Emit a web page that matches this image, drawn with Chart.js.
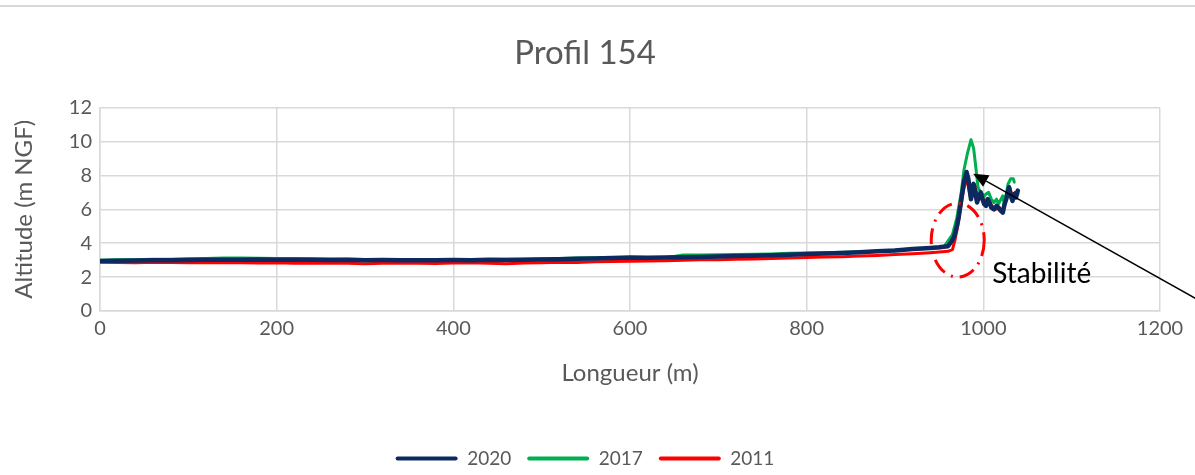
<!DOCTYPE html>
<html>
<head>
<meta charset="utf-8">
<script src="https://cdn.jsdelivr.net/npm/chart.js@4.4.1/dist/chart.umd.min.js"></script>
<style>
  html, body { margin: 0; padding: 0; background: #ffffff; }
  #wrap { position: relative; width: 1195px; height: 475px; overflow: hidden; }
  #topline { position: absolute; left: 0; top: 5px; width: 1195px; height: 2px; background: #d9d9d9; }
  canvas { position: absolute; left: 0; top: 0; }
</style>
</head>
<body>
<div id="wrap">
  <canvas id="c" width="1195" height="475"></canvas>
  <div id="topline"></div>
</div>
<script>
// ---- Data ----
const seriesNames = ['2020', '2017', '2011'];

const dist2020 = [0,20,40,60,80,100,120,140,160,180,200,220,240,260,280,300,320,340,360,380,400,420,440,460,480,500,520,540,560,580,600,620,640,660,680,700,720,740,760,780,800,820,840,860,880,900,920,940,950,960,964,967,970,972,974,976,978,981,983,985,986,988,989,991,993,995,997,999,1001,1003,1005,1007,1009,1012,1015,1017,1020,1022,1024,1026,1027,1029,1031,1033,1035,1037,1039];
const alt2020  = [2.95,2.97,2.98,3.0,2.99,3.01,3.02,3.03,3.02,3.04,3.03,3.02,3.03,3.01,3.02,3.0,3.01,3.0,2.99,3.0,3.01,3.0,3.02,3.01,3.03,3.04,3.06,3.08,3.1,3.12,3.15,3.14,3.16,3.17,3.19,3.21,3.24,3.26,3.29,3.32,3.36,3.39,3.42,3.47,3.52,3.57,3.66,3.72,3.76,3.82,4.1,4.4,5.0,5.5,6.2,6.9,7.6,8.2,7.8,7.0,6.6,7.3,7.5,6.9,6.4,6.8,7.0,6.6,6.3,6.2,6.6,6.4,6.1,6.0,6.2,6.1,5.9,5.8,6.3,6.6,6.9,7.3,6.8,6.5,6.9,6.7,7.1];

const dist2017 = [0,20,40,60,80,100,120,140,160,180,200,220,240,260,280,300,320,340,360,380,400,420,440,460,480,500,520,540,560,580,600,620,640,650,660,680,700,720,740,760,780,800,820,840,860,880,900,920,940,955,965,970,975,978,982,986,989,991,994,997,1000,1003,1006,1009,1012,1015,1017,1020,1022,1024,1026,1028,1031,1034,1035];
const alt2017  = [3.0,3.02,3.03,3.05,3.06,3.08,3.1,3.12,3.12,3.11,3.1,3.1,3.08,3.07,3.05,3.04,3.03,3.02,3.02,3.01,3.02,3.03,3.04,3.05,3.06,3.08,3.1,3.12,3.14,3.15,3.15,3.14,3.15,3.22,3.3,3.31,3.32,3.33,3.35,3.37,3.4,3.42,3.44,3.46,3.49,3.53,3.58,3.64,3.7,3.75,4.5,5.5,7.0,8.3,9.3,10.1,9.6,8.7,7.3,7.0,6.7,6.9,7.0,6.6,6.4,6.6,6.3,6.6,6.8,6.2,6.9,7.5,7.8,7.8,7.6];

const dist2011 = [0,20,40,60,80,100,120,140,160,180,200,220,240,260,280,300,320,340,360,380,400,420,440,460,480,500,520,540,560,580,600,620,640,660,680,700,720,740,760,780,800,820,840,860,880,900,920,940,960,965,968,971,974,977,980,982,985,988,991,993,996,999,1002,1006,1010,1014,1018,1022,1025,1028,1030,1033,1036,1039];
const alt2011  = [2.88,2.86,2.85,2.87,2.86,2.85,2.84,2.86,2.85,2.83,2.84,2.82,2.83,2.81,2.82,2.79,2.82,2.83,2.81,2.8,2.83,2.84,2.82,2.79,2.83,2.85,2.87,2.86,2.9,2.92,2.94,2.95,2.97,3.0,3.02,3.03,3.05,3.07,3.1,3.12,3.15,3.18,3.2,3.24,3.28,3.33,3.38,3.44,3.52,3.62,4.2,5.0,6.0,7.0,7.7,7.6,6.8,7.0,7.4,6.8,6.6,6.9,6.4,6.5,6.2,6.0,6.1,5.9,6.4,7.0,7.3,6.7,7.0,6.9];

const xTicks = [0, 200, 400, 600, 800, 1000, 1200];
const yTicks = [0, 2, 4, 6, 8, 10, 12];

// ---- Annotation anchors (data coordinates) ----
const noteEllipse = { x: 971, y: 4.18, rx: 30, ry: 2.18 };
const noteArrow = { x1: 1250, y1: 0.46, x2: 988.5, y2: 8.1 };
const noteText = { x: 1010, y: 2.2, text: 'Stabilité' };

const colors = { '2020': '#0d2a60', '2017': '#00b050', '2011': '#ff0000' };
const widths = { '2020': 4.5, '2017': 3, '2011': 3 };

function pts(xs, ys) { return xs.map((x, i) => ({ x: x, y: ys[i] })); }
const seriesData = { '2020': pts(dist2020, alt2020), '2017': pts(dist2017, alt2017), '2011': pts(dist2011, alt2011) };

const FONT = "Lato, 'Open Sans', sans-serif";
const GREY = '#595959';

const notesPlugin = {
  id: 'notes',
  afterDraw(chart) {
    const ctx = chart.ctx;
    const xs = chart.scales.x, ys = chart.scales.y;
    // ellipse
    const cx = xs.getPixelForValue(noteEllipse.x), cy = ys.getPixelForValue(noteEllipse.y);
    const rx = Math.abs(xs.getPixelForValue(noteEllipse.x + noteEllipse.rx) - cx);
    const ry = Math.abs(ys.getPixelForValue(noteEllipse.y + noteEllipse.ry) - cy);
    ctx.save();
    ctx.strokeStyle = '#ff0000';
    ctx.lineWidth = 3;
    ctx.setLineDash([16, 7, 2, 7]);
    ctx.beginPath();
    ctx.ellipse(cx, cy, rx, ry, 0, 0, Math.PI * 2);
    ctx.stroke();
    ctx.restore();
    // arrow
    const ax1 = xs.getPixelForValue(noteArrow.x1), ay1 = ys.getPixelForValue(noteArrow.y1);
    const ax2 = xs.getPixelForValue(noteArrow.x2), ay2 = ys.getPixelForValue(noteArrow.y2);
    const ang = Math.atan2(ay2 - ay1, ax2 - ax1);
    const hl = 15, hw = 6.5;
    const bx = ax2 - hl * Math.cos(ang), by = ay2 - hl * Math.sin(ang);
    ctx.save();
    ctx.strokeStyle = '#000000';
    ctx.lineWidth = 1.5;
    ctx.beginPath();
    ctx.moveTo(ax1, ay1);
    ctx.lineTo(bx, by);
    ctx.stroke();
    ctx.fillStyle = '#000000';
    ctx.beginPath();
    ctx.moveTo(ax2, ay2);
    ctx.lineTo(bx + hw * Math.sin(ang), by - hw * Math.cos(ang));
    ctx.lineTo(bx - hw * Math.sin(ang), by + hw * Math.cos(ang));
    ctx.closePath();
    ctx.fill();
    ctx.restore();
    // text
    ctx.save();
    ctx.fillStyle = '#000000';
    ctx.font = '28px ' + FONT;
    ctx.textBaseline = 'middle';
    ctx.textAlign = 'left';
    ctx.fillText(noteText.text, xs.getPixelForValue(noteText.x), ys.getPixelForValue(noteText.y));
    ctx.restore();
  }
};

new Chart(document.getElementById('c'), {
  type: 'line',
  data: {
    datasets: seriesNames.map(n => ({
      label: n,
      data: seriesData[n],
      borderColor: colors[n],
      backgroundColor: colors[n],
      borderWidth: widths[n],
      pointRadius: 0,
      tension: 0,
      borderJoinStyle: 'round',
      borderCapStyle: 'round',
      fill: false
    }))
  },
  options: {
    responsive: false,
    animation: false,
    devicePixelRatio: 1,
    layout: { padding: { left: 10, right: 35, top: 0, bottom: -3 } },
    plugins: {
      title: {
        display: true,
        text: 'Profil 154',
        color: GREY,
        font: { family: FONT, size: 33, weight: 'normal' },
        padding: { top: 34, bottom: 34 }
      },
      legend: {
        display: true,
        position: 'bottom',
        labels: {
          color: GREY,
          font: { family: FONT, size: 19 },
          boxWidth: 62,
          boxHeight: 4,
          padding: 16,
          generateLabels(chart) {
            return chart.data.datasets.map((d, i) => ({
              text: d.label,
              fillStyle: d.borderColor,
              strokeStyle: d.borderColor,
              lineWidth: 0,
              fontColor: GREY,
              datasetIndex: i,
              borderRadius: 2
            }));
          }
        }
      },
      tooltip: { enabled: false }
    },
    scales: {
      x: {
        type: 'linear',
        min: 0,
        max: 1200,
        afterBuildTicks(scale) { scale.ticks = xTicks.map(v => ({ value: v })); },
        afterFit(scale) { scale.height = 122; },
        ticks: { color: GREY, font: { family: FONT, size: 20 }, padding: 6, callback: v => String(v) },
        grid: { color: '#d9d9d9', lineWidth: 1.5, drawTicks: false },
        border: { color: '#d9d9d9', width: 1.5 },
        title: {
          display: true,
          text: 'Longueur (m)',
          color: GREY,
          font: { family: FONT, size: 24 },
          padding: { top: 10, bottom: 45 }
        }
      },
      y: {
        type: 'linear',
        min: 0,
        max: 12,
        afterBuildTicks(scale) { scale.ticks = yTicks.map(v => ({ value: v })); },
        afterFit(scale) { scale.width = 90; },
        ticks: { color: GREY, font: { family: FONT, size: 20 }, padding: 8, callback: v => String(v) },
        grid: { color: '#d9d9d9', lineWidth: 1.5, drawTicks: false },
        border: { color: '#d9d9d9', width: 1.5 },
        title: {
          display: true,
          text: 'Altitude (m NGF)',
          color: GREY,
          font: { family: FONT, size: 24 },
          padding: { top: 0, bottom: 10 }
        }
      }
    }
  },
  plugins: [notesPlugin]
});
</script>
</body>
</html>
